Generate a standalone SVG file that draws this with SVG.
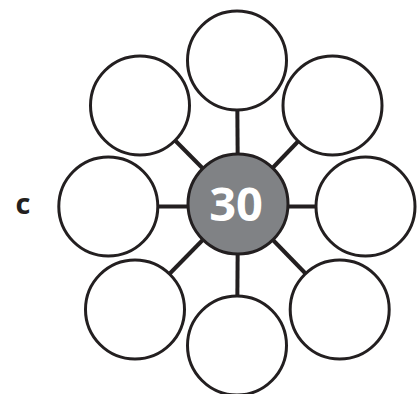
<svg xmlns="http://www.w3.org/2000/svg" width="420" height="394" viewBox="0 0 420 394">
<style>
.n{fill:#fff;stroke:#231f20;stroke-width:3}
.c{fill:#808285;stroke:#231f20;stroke-width:3}
.l{stroke:#231f20;stroke-width:4}
</style>
<rect width="420" height="394" fill="#fff"/>
<g id="connectors">
<line class="l" x1="238" y1="204" x2="237" y2="60"/>
<line class="l" x1="238" y1="204" x2="140" y2="105"/>
<line class="l" x1="238" y1="204" x2="333" y2="105"/>
<line class="l" x1="238" y1="206.5" x2="108" y2="206.5"/>
<line class="l" x1="238" y1="206.5" x2="366" y2="206.5"/>
<line class="l" x1="238" y1="204" x2="135" y2="309"/>
<line class="l" x1="238" y1="204" x2="340" y2="309"/>
<line class="l" x1="238" y1="204" x2="237" y2="346"/>
</g>
<g id="n-top"><circle class="n" cx="237" cy="60.5" r="49.5"/></g>
<g id="n-topleft"><circle class="n" cx="140" cy="105.5" r="49.5"/></g>
<g id="n-topright"><circle class="n" cx="332.5" cy="105.5" r="49.5"/></g>
<g id="n-left"><circle class="n" cx="108.3" cy="206.5" r="49.5"/></g>
<g id="n-right"><circle class="n" cx="365.5" cy="206.5" r="49.5"/></g>
<g id="n-bottomleft"><circle class="n" cx="135" cy="309.5" r="49.5"/></g>
<g id="n-bottomright"><circle class="n" cx="339.7" cy="309.5" r="49.5"/></g>
<g id="n-bottom"><circle class="n" cx="237" cy="345.5" r="49.5"/></g>
<g id="n-center"><circle class="c" cx="238" cy="204" r="50"/>
<text x="236" y="221" text-anchor="middle" font-family="'Open Sans', sans-serif" font-weight="bold" font-size="47" fill="#fff">30</text></g>
<text x="23" y="214" text-anchor="middle" font-family="'Open Sans', sans-serif" font-weight="bold" font-size="29" fill="#231f20">c</text>
</svg>
